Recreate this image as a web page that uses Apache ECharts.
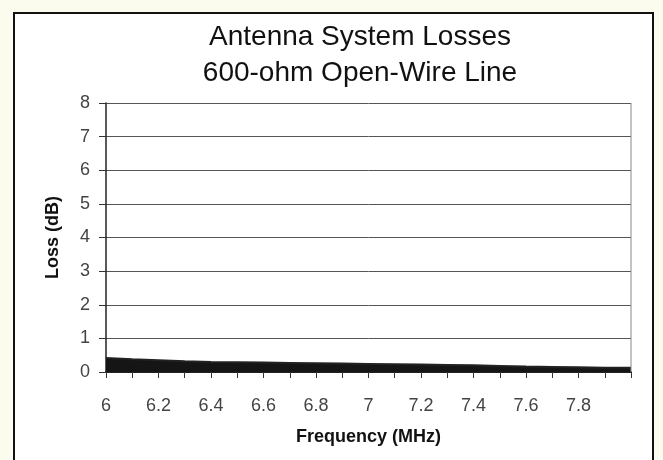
<!DOCTYPE html>
<html>
<head>
<meta charset="utf-8">
<script src="https://cdn.jsdelivr.net/npm/echarts@6/dist/echarts.min.js"></script>
<style>
  html, body { margin: 0; padding: 0; background: #fbfbee; }
  #frame {
    position: absolute; left: 13px; top: 12px; width: 637px; height: 460px;
    border: 2px solid #111; background: #fff;
  }
  #chart { position: absolute; left: 0; top: 0; width: 663px; height: 460px; }
</style>
</head>
<body>
<div id="frame"></div>
<div id="chart"></div>
<script>
  // frequency (MHz) and loss (dB)
  const freq = [6.0, 6.1, 6.2, 6.3, 6.4, 6.5, 6.6, 6.7, 6.8, 6.9, 7.0,
                7.1, 7.2, 7.3, 7.4, 7.5, 7.6, 7.7, 7.8, 7.9, 8.0];
  const loss = [0.42, 0.38, 0.35, 0.32, 0.30, 0.29, 0.28, 0.27, 0.26, 0.25, 0.24,
                0.23, 0.22, 0.21, 0.20, 0.18, 0.16, 0.15, 0.14, 0.13, 0.13];
  const yTicks = [0, 1, 2, 3, 4, 5, 6, 7, 8];

  const myChart = echarts.init(document.getElementById('chart'));
  const font = 'Liberation Sans, Arial, sans-serif';

  const option = {
    animation: false,
    title: {
      text: 'Antenna System Losses\n600-ohm Open-Wire Line',
      left: 360,
      top: 19,
      textAlign: 'center',
      padding: 0,
      textStyle: {
        fontFamily: font,
        fontSize: 28,
        fontWeight: 'normal',
        lineHeight: 36,
        color: '#111'
      }
    },
    grid: { left: 106, right: 32, top: 103, bottom: 88 },
    xAxis: {
      type: 'value',
      min: 6,
      max: 8,
      interval: 0.1,
      name: 'Frequency (MHz)',
      nameLocation: 'middle',
      nameGap: 56,
      nameTextStyle: { fontFamily: font, fontSize: 18, fontWeight: 'bold', color: '#111' },
      axisLine: { show: true, lineStyle: { color: '#222', width: 2 } },
      axisTick: { show: true, length: 6, lineStyle: { color: '#333' } },
      splitLine: { show: false },
      axisLabel: {
        margin: 25,
        fontFamily: font,
        fontSize: 18,
        color: '#444',
        formatter: function (v) {
          const t = Math.round(v * 10);
          if (t % 2 !== 0 || t >= 80) return '';
          return String(t / 10);
        }
      }
    },
    yAxis: {
      type: 'value',
      min: yTicks[0],
      max: yTicks[yTicks.length - 1],
      interval: 1,
      name: 'Loss (dB)',
      nameLocation: 'middle',
      nameGap: 44,
      nameTextStyle: { fontFamily: font, fontSize: 18, fontWeight: 'bold', color: '#111' },
      axisLine: { show: true, lineStyle: { color: '#222', width: 1.5 } },
      axisTick: { show: true, length: 7, lineStyle: { color: '#333' } },
      splitLine: { show: true, lineStyle: { color: '#555', width: 1 } },
      axisLabel: { margin: 16, fontFamily: font, fontSize: 18, color: '#444' }
    },
    series: [
      {
        type: 'line',
        data: freq.map((f, i) => [f, loss[i]]),
        showSymbol: false,
        lineStyle: { color: '#222', width: 2 },
        areaStyle: { color: '#151515', opacity: 1 }
      },
      {
        // right plot border
        type: 'line',
        data: [[8, 0], [8, 8]],
        showSymbol: false,
        silent: true,
        lineStyle: { color: '#888', width: 1 }
      }
    ]
  };

  myChart.setOption(option);
</script>
</body>
</html>
